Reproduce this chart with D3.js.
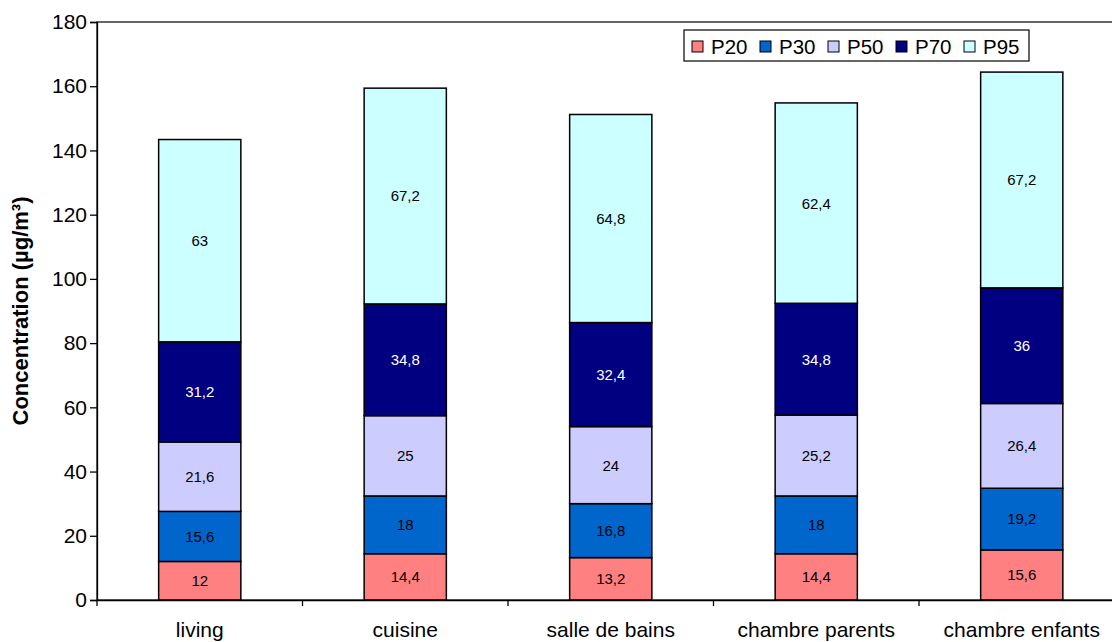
<!DOCTYPE html>
<html>
<head>
<meta charset="utf-8">
<script src="https://cdn.jsdelivr.net/npm/d3@7"></script>
<style>
  html, body { margin: 0; padding: 0; background: #fff; overflow: hidden; }
  svg { display: block; font-family: "Liberation Sans", Arial, sans-serif; }
</style>
</head>
<body>
<svg id="chart" width="1112" height="642"></svg>
<script>
// Indoor concentration percentiles by room (µg/m³), stacked
const categories = ["living", "cuisine", "salle de bains", "chambre parents", "chambre enfants"];
const seriesNames = ["P20", "P30", "P50", "P70", "P95"];
const p20 = [12, 14.4, 13.2, 14.4, 15.6];
const p30 = [15.6, 18, 16.8, 18, 19.2];
const p50 = [21.6, 25, 24, 25.2, 26.4];
const p70 = [31.2, 34.8, 32.4, 34.8, 36];
const p95 = [63, 67.2, 64.8, 62.4, 67.2];
const yTicks = [0, 20, 40, 60, 80, 100, 120, 140, 160, 180];
const yTitle = "Concentration (µg/m³)";

const seriesValues = [p20, p30, p50, p70, p95];
const colors = ["#FF8080", "#0066CC", "#CCCCFF", "#000080", "#CCFFFF"];
const labelColors = ["#000", "#000", "#000", "#fff", "#000"];

const rows = categories.map((c, i) => {
  const r = { cat: c };
  seriesNames.forEach((s, k) => { r[s] = seriesValues[k][i]; });
  return r;
});
const stacked = d3.stack().keys(seriesNames)(rows);

const svg = d3.select("#chart");
const plotLeft = 97, plotRight = 1124.5, plotTop = 22, plotBottom = 600;

const x = d3.scaleBand().domain(categories).range([plotLeft, plotRight])
  .paddingInner(0.6).paddingOuter(0.3);
const y = d3.scaleLinear().domain([0, 180]).range([plotBottom, plotTop]);
const fmt = v => String(+v.toFixed(1)).replace(".", ",");

// plot area frame
svg.append("rect")
  .attr("x", plotLeft).attr("y", plotTop)
  .attr("width", plotRight - plotLeft).attr("height", plotBottom - plotTop)
  .attr("fill", "none").attr("stroke", "#000").attr("stroke-width", 1.2);

// bars
const layers = svg.append("g").selectAll("g").data(stacked).join("g")
  .attr("fill", (d, k) => colors[k]);
layers.selectAll("rect").data(d => d).join("rect")
  .attr("x", d => x(d.data.cat))
  .attr("width", x.bandwidth())
  .attr("y", d => y(d[1]))
  .attr("height", d => y(d[0]) - y(d[1]))
  .attr("stroke", "#000").attr("stroke-width", 1.5);

// value labels
stacked.forEach((layer, k) => {
  svg.append("g").selectAll("text").data(layer).join("text")
    .attr("x", d => x(d.data.cat) + x.bandwidth() / 2)
    .attr("y", d => y((d[0] + d[1]) / 2))
    .attr("dy", "0.36em")
    .attr("text-anchor", "middle")
    .attr("font-size", 15)
    .attr("fill", labelColors[k])
    .text(d => fmt(seriesValues[k][categories.indexOf(d.data.cat)]));
});

// y axis
const yAxis = svg.append("g").attr("transform", `translate(${plotLeft},0)`)
  .call(d3.axisLeft(y).tickValues(yTicks).tickSize(7).tickPadding(3).tickFormat(d3.format("d")));
yAxis.selectAll("text").attr("font-size", 21).attr("fill", "#000")
  .attr("font-family", "Liberation Sans, Arial, sans-serif");
yAxis.selectAll("line, path").attr("stroke", "#000").attr("stroke-width", 1.3);

// x axis
const xAxis = svg.append("g").attr("transform", `translate(0,${plotBottom})`)
  .call(d3.axisBottom(x).tickSize(0).tickPadding(22));
xAxis.select("path").attr("stroke", "#000").attr("stroke-width", 1.3);
xAxis.selectAll("text").attr("font-size", 21).attr("fill", "#000")
  .attr("font-family", "Liberation Sans, Arial, sans-serif");
// category separators
const step = x.step();
const bounds = categories.map(c => x(c) + x.bandwidth() / 2 - step / 2)
  .concat([x(categories[categories.length - 1]) + x.bandwidth() / 2 + step / 2]);
svg.append("g").selectAll("line").data(bounds).join("line")
  .attr("x1", d => d).attr("x2", d => d)
  .attr("y1", plotBottom).attr("y2", plotBottom + 6)
  .attr("stroke", "#000").attr("stroke-width", 1.3);

// y title
svg.append("text")
  .attr("transform", "translate(28,311) rotate(-90)")
  .attr("text-anchor", "middle")
  .attr("font-size", 22).attr("font-weight", "bold")
  .text(yTitle);

// legend
const lg = svg.append("g");
lg.append("rect").attr("x", 684).attr("y", 30).attr("width", 345).attr("height", 31)
  .attr("fill", "#fff").attr("stroke", "#000").attr("stroke-width", 1.2);
const items = lg.selectAll("g.item").data(seriesNames).join("g")
  .attr("class", "item")
  .attr("transform", (d, i) => `translate(${692 + i * 68},0)`);
items.append("rect").attr("x", 0).attr("y", 41).attr("width", 11).attr("height", 11)
  .attr("fill", (d, i) => colors[i]).attr("stroke", "#000").attr("stroke-width", 1);
items.append("text").attr("x", 19).attr("y", 54).attr("font-size", 20.5).text(d => d);
</script>
</body>
</html>
